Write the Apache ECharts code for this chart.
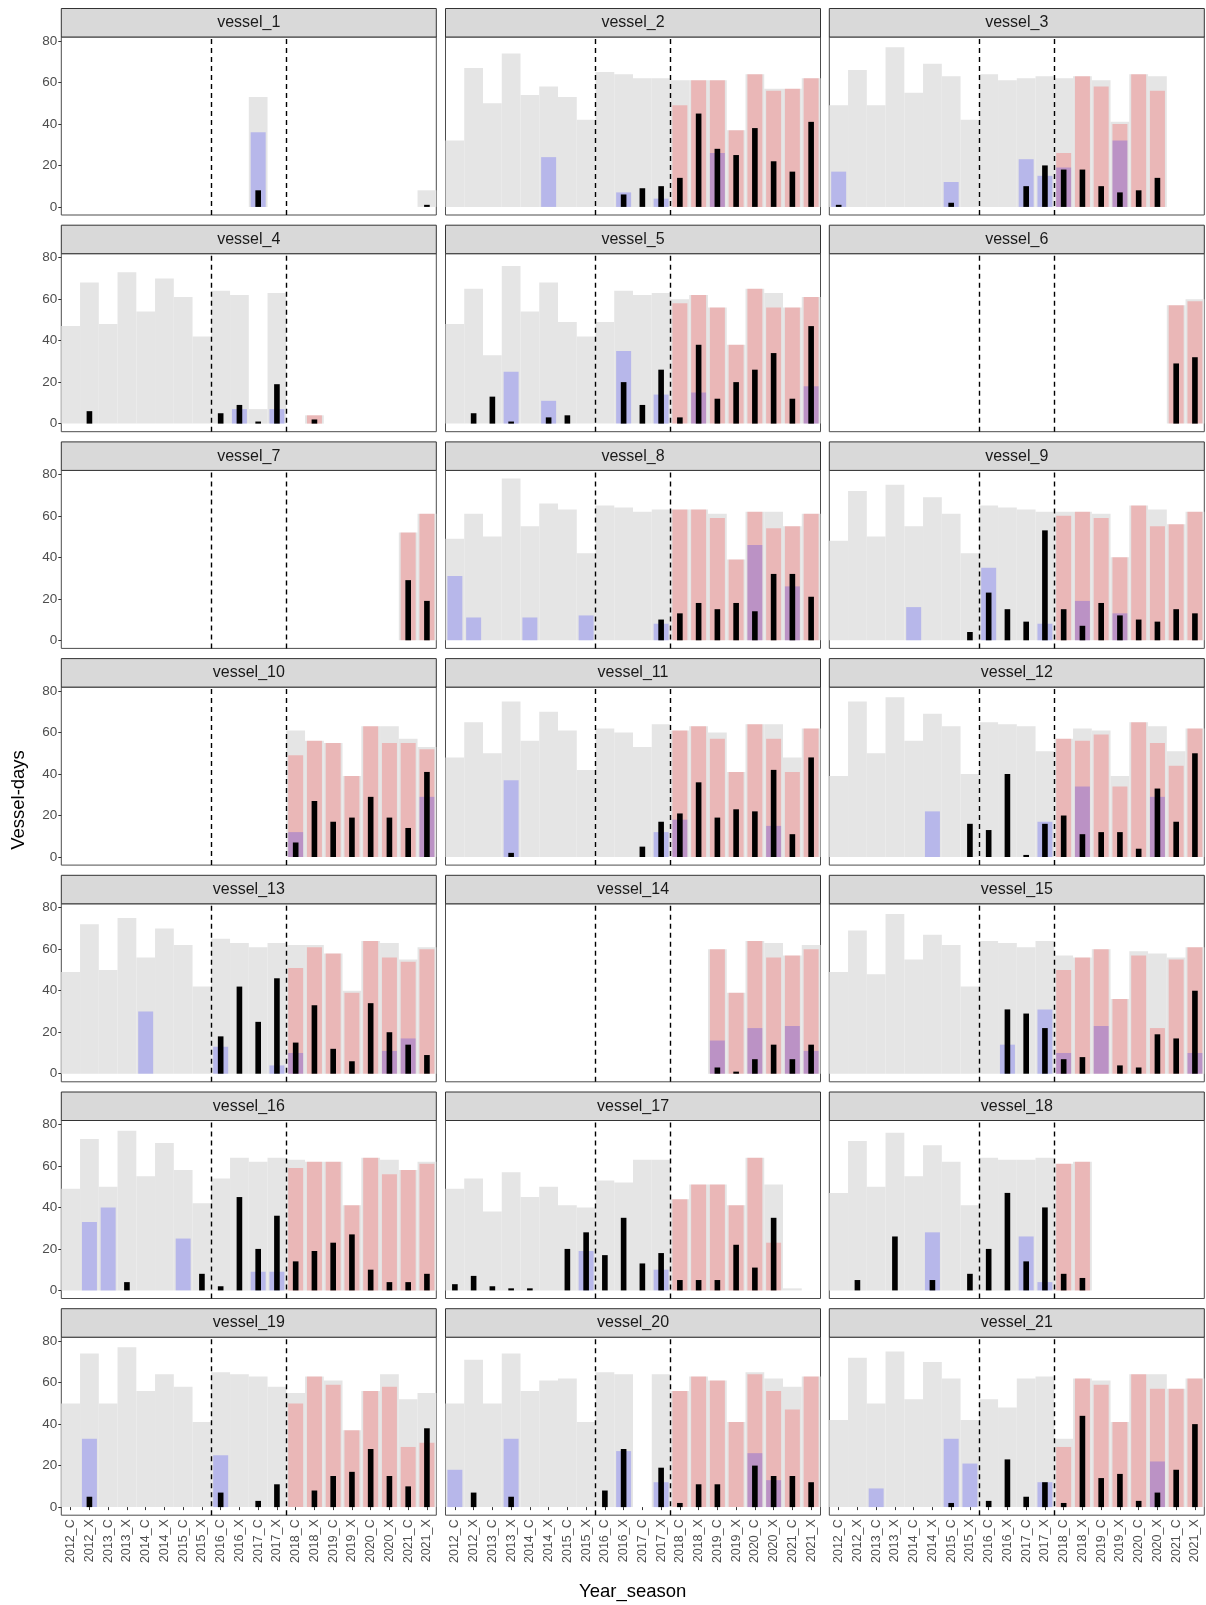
<!DOCTYPE html>
<html>
<head>
<meta charset="utf-8">
<script src="https://cdn.jsdelivr.net/npm/echarts@6/dist/echarts.min.js"></script>
<style>
  html, body { margin: 0; padding: 0; background: #fff; }
  #chart { width: 1206px; height: 1605px; }
</style>
</head>
<body>
<div id="chart"></div>
<script>
const _ = null;

const categories = ['2012_C', '2012_X', '2013_C', '2013_X', '2014_C', '2014_X', '2015_C', '2015_X',
    '2016_C', '2016_X', '2017_C', '2017_X', '2018_C', '2018_X', '2019_C', '2019_X',
    '2020_C', '2020_X', '2021_C', '2021_X'];

const vessels = ['vessel_1', 'vessel_2', 'vessel_3', 'vessel_4', 'vessel_5', 'vessel_6', 'vessel_7',
    'vessel_8', 'vessel_9', 'vessel_10', 'vessel_11', 'vessel_12', 'vessel_13', 'vessel_14',
    'vessel_15', 'vessel_16', 'vessel_17', 'vessel_18', 'vessel_19', 'vessel_20', 'vessel_21'];

const yTicks = [0, 20, 40, 60, 80];

// grey bars (full width)
const greyDays = [
    [_,_,_,_,_,_,_,_,_,_,53,_,_,_,_,_,_,_,_,8],
    [32,67,50,74,54,58,53,42,65,64,62,62,61,61,61,37,64,57,57,62],
    [49,66,49,77,55,69,63,42,64,61,62,63,62,63,61,41,64,63,_,_],
    [47,68,48,73,54,70,61,42,64,62,7,63,_,4,_,_,_,_,_,_],
    [48,65,33,76,54,68,49,42,49,64,62,63,60,62,56,38,65,63,56,61],
    [_,_,_,_,_,_,_,_,_,_,_,_,_,_,_,_,_,_,57,60],
    [_,_,_,_,_,_,_,_,_,_,_,_,_,_,_,_,_,_,52,61],
    [49,61,50,78,55,66,63,42,65,64,62,63,63,63,61,39,62,62,55,61],
    [48,72,50,75,55,69,61,42,65,64,63,62,62,62,61,40,65,63,56,62],
    [_,_,_,_,_,_,_,_,_,_,_,_,61,56,55,39,63,63,57,53],
    [48,65,50,75,56,70,61,42,62,60,53,64,61,63,60,41,64,64,48,62],
    [39,75,50,77,56,69,63,40,65,64,63,51,57,62,61,39,65,63,51,62],
    [49,72,50,75,56,70,62,42,65,63,61,63,62,62,58,40,64,63,55,61],
    [_,_,_,_,_,_,_,_,_,_,_,_,_,_,60,39,64,63,57,62],
    [49,69,48,77,55,67,62,42,64,63,61,64,57,56,60,36,59,58,56,61],
    [49,73,50,77,55,71,58,42,54,64,62,64,63,62,62,41,64,63,58,62],
    [49,54,38,57,45,50,41,40,53,52,63,63,44,51,51,41,64,51,1,_],
    [47,72,50,76,55,70,62,41,64,63,63,64,61,62,_,_,_,_,_,_],
    [50,74,50,77,56,64,58,41,65,64,63,58,55,63,61,37,56,64,52,55],
    [50,71,50,74,56,61,62,41,65,64,_,64,56,63,61,41,65,62,58,63],
    [42,72,50,75,52,70,62,42,52,48,62,63,33,62,61,41,64,64,57,62]
];

// red bars
const redDays = [
    [_,_,_,_,_,_,_,_,_,_,_,_,_,_,_,_,_,_,_,_],
    [_,_,_,_,_,_,_,_,_,_,_,_,49,61,61,37,64,56,57,62],
    [_,_,_,_,_,_,_,_,_,_,_,_,26,63,58,40,64,56,_,_],
    [_,_,_,_,_,_,_,_,_,_,_,_,_,4,_,_,_,_,_,_],
    [_,_,_,_,_,_,_,_,_,_,_,_,58,62,56,38,65,56,56,61],
    [_,_,_,_,_,_,_,_,_,_,_,_,_,_,_,_,_,_,57,59],
    [_,_,_,_,_,_,_,_,_,_,_,_,_,_,_,_,_,_,52,61],
    [_,_,_,_,_,_,_,_,_,_,_,_,63,63,59,39,62,54,55,61],
    [_,_,_,_,_,_,_,_,_,_,_,_,60,62,59,40,65,55,56,62],
    [_,_,_,_,_,_,_,_,_,_,_,_,49,56,55,39,63,55,55,52],
    [_,_,_,_,_,_,_,_,_,_,_,_,61,63,57,41,64,57,41,62],
    [_,_,_,_,_,_,_,_,_,_,_,_,57,56,59,34,65,55,44,62],
    [_,_,_,_,_,_,_,_,_,_,_,_,51,61,58,39,64,56,54,60],
    [_,_,_,_,_,_,_,_,_,_,_,_,_,_,60,39,64,56,57,60],
    [_,_,_,_,_,_,_,_,_,_,_,_,50,56,60,36,57,22,55,61],
    [_,_,_,_,_,_,_,_,_,_,_,_,59,62,62,41,64,56,58,61],
    [_,_,_,_,_,_,_,_,_,_,_,_,44,51,51,41,64,23,_,_],
    [_,_,_,_,_,_,_,_,_,_,_,_,61,62,_,_,_,_,_,_],
    [_,_,_,_,_,_,_,_,_,_,_,_,50,63,59,37,56,58,29,31],
    [_,_,_,_,_,_,_,_,_,_,_,_,56,63,61,41,64,56,47,63],
    [_,_,_,_,_,_,_,_,_,_,_,_,29,62,59,41,64,57,57,62]
];

// blue bars
const blueDays = [
    [_,_,_,_,_,_,_,_,_,_,36,_,_,_,_,_,_,_,_,_],
    [_,_,_,_,_,24,_,_,_,7,_,4,_,_,26,_,_,_,_,_],
    [17,_,_,_,_,_,12,_,_,_,23,15,19,_,_,32,_,_,_,_],
    [_,_,_,_,_,_,_,_,_,7,_,7,_,_,_,_,_,_,_,_],
    [_,_,_,25,_,11,_,_,_,35,_,14,_,15,_,_,_,_,_,18],
    [_,_,_,_,_,_,_,_,_,_,_,_,_,_,_,_,_,_,_,_],
    [_,_,_,_,_,_,_,_,_,_,_,_,_,_,_,_,_,_,_,_],
    [31,11,_,_,11,_,_,12,_,_,_,8,_,_,_,_,46,_,26,_],
    [_,_,_,_,16,_,_,_,35,_,_,8,_,19,_,13,_,_,_,_],
    [_,_,_,_,_,_,_,_,_,_,_,_,12,_,_,_,_,_,_,29],
    [_,_,_,37,_,_,_,_,_,_,_,12,18,_,_,_,_,15,_,_],
    [_,_,_,_,_,22,_,_,_,_,_,17,_,34,_,_,_,29,_,_],
    [_,_,_,_,30,_,_,_,13,_,_,4,10,_,_,_,_,11,17,_],
    [_,_,_,_,_,_,_,_,_,_,_,_,_,_,16,_,22,_,23,11],
    [_,_,_,_,_,_,_,_,_,14,_,31,10,_,23,_,_,_,_,10],
    [_,33,40,_,_,_,25,_,_,_,9,9,_,_,_,_,_,_,_,_],
    [_,_,_,_,_,_,_,19,_,_,_,10,_,_,_,_,_,_,_,_],
    [_,_,_,_,_,28,_,_,_,_,26,4,_,_,_,_,_,_,_,_],
    [_,33,_,_,_,_,_,_,25,_,_,_,_,_,_,_,_,_,_,_],
    [18,_,_,33,_,_,_,_,_,27,_,12,_,_,_,_,26,13,_,_],
    [_,_,9,_,_,_,33,21,_,_,_,12,_,_,_,_,_,22,_,_]
];

// black bars (narrow)
const blackDays = [
    [_,_,_,_,_,_,_,_,_,_,8,_,_,_,_,_,_,_,_,1],
    [_,_,_,_,_,_,_,_,_,6,9,10,14,45,28,25,38,22,17,41],
    [1,_,_,_,_,_,2,_,_,_,10,20,18,18,10,7,8,14,_,_],
    [_,6,_,_,_,_,_,_,5,9,1,19,_,2,_,_,_,_,_,_],
    [_,5,13,1,_,3,4,_,_,20,9,26,3,38,12,20,26,34,12,47],
    [_,_,_,_,_,_,_,_,_,_,_,_,_,_,_,_,_,_,29,32],
    [_,_,_,_,_,_,_,_,_,_,_,_,_,_,_,_,_,_,29,19],
    [_,_,_,_,_,_,_,_,_,_,_,10,13,18,15,18,14,32,32,21],
    [_,_,_,_,_,_,_,4,23,15,9,53,15,7,18,12,10,9,15,13],
    [_,_,_,_,_,_,_,_,_,_,_,_,7,27,17,19,29,19,14,41],
    [_,_,_,2,_,_,_,_,_,_,5,17,21,36,19,23,22,42,11,48],
    [_,_,_,_,_,_,_,16,13,40,1,16,20,11,12,12,4,33,17,50],
    [_,_,_,_,_,_,_,_,18,42,25,46,15,33,12,6,34,20,14,9],
    [_,_,_,_,_,_,_,_,_,_,_,_,_,_,3,1,7,14,7,14],
    [_,_,_,_,_,_,_,_,_,31,29,22,7,8,_,4,3,19,17,40],
    [_,_,_,4,_,_,_,8,2,45,20,36,14,19,23,27,10,4,4,8],
    [3,7,2,1,1,_,20,28,17,35,13,18,5,5,5,22,11,35,_,_],
    [_,5,_,26,_,5,_,8,20,47,14,40,8,6,_,_,_,_,_,_],
    [_,5,_,_,_,_,_,_,7,_,3,11,_,8,15,17,28,15,10,38],
    [_,7,_,5,_,_,_,_,8,28,_,19,2,11,11,_,20,15,15,12],
    [_,_,_,_,_,_,2,_,3,23,5,12,2,44,14,16,3,7,18,40]
];

const FONT = "'Liberation Sans', Arial, sans-serif";
const colLeft = [61.3, 445.5, 829.3];
const panelW = 375;
const panelH = 178;
const stripH = 28.5;
const stripTop0 = 8.5;
const rowStep = 216.7;

const layers = [
    { data: greyDays, width: '100%', color: '#e5e5e5' },
    { data: redDays, width: '80%', color: 'rgba(255,0,0,0.2)' },
    { data: blueDays, width: '80%', color: 'rgba(0,0,255,0.2)' },
    { data: blackDays, width: '30%', color: '#000' }
];

const grid = [], xAxis = [], yAxis = [], series = [], graphic = [];

vessels.forEach(function (name, k) {
    const row = Math.floor(k / 3);
    const col = k % 3;
    const left = colLeft[col];
    const stripTop = stripTop0 + row * rowStep;
    const top = stripTop + stripH;
    const bottomRow = row === 6;

    grid.push({
        left: left, top: top, width: panelW, height: panelH,
        show: true, backgroundColor: '#fff', borderColor: '#4d4d4d', borderWidth: 1
    });

    const base = xAxis.length;
    layers.forEach(function (layer, j) {
        xAxis.push({
            type: 'category', gridIndex: k, data: categories,
            show: j === 0 && bottomRow,
            axisLine: { show: false },
            axisTick: { show: true, alignWithLabel: true, length: 3, lineStyle: { color: '#333' } },
            axisLabel: { rotate: 90, interval: 0, fontSize: 12.5, color: '#4d4d4d', margin: 4, fontFamily: FONT },
            splitLine: { show: false }
        });
        series.push({
            type: 'bar', xAxisIndex: base + j, yAxisIndex: k,
            data: layer.data[k], barWidth: layer.width,
            itemStyle: { color: layer.color },
            silent: true, z: 2 + j
        });
    });
    // value axis used only to place the dashed season separators between categories
    xAxis.push({ type: 'value', gridIndex: k, min: 0, max: 20, show: false });
    yAxis.push({
        type: 'value', gridIndex: k, min: -3.9, max: 81.9,
        show: col === 0,
        axisLine: { show: false },
        axisTick: { show: true, length: 3, customValues: yTicks, lineStyle: { color: '#333' } },
        axisLabel: { customValues: yTicks, fontSize: 13.5, color: '#4d4d4d', margin: 4, fontFamily: FONT },
        splitLine: { show: false }
    });
    series.push({
        type: 'scatter', xAxisIndex: base + 4, yAxisIndex: k, data: [], silent: true, z: 10,
        markLine: {
            silent: true, symbol: ['none', 'none'], label: { show: false },
            lineStyle: { color: '#000', type: [5, 4], width: 1.4 },
            data: [{ xAxis: 8 }, { xAxis: 12 }]
        }
    });

    graphic.push({
        type: 'rect', silent: true,
        shape: { x: left, y: stripTop, width: panelW, height: stripH },
        style: { fill: '#d9d9d9', stroke: '#333', lineWidth: 1 }
    });
    graphic.push({
        type: 'text', silent: true, x: left + panelW / 2, y: stripTop + stripH / 2,
        style: { text: name, align: 'center', verticalAlign: 'middle', fill: '#1a1a1a', fontSize: 16, fontFamily: FONT }
    });
});

graphic.push({
    type: 'text', silent: true, x: 18.5, y: 800, rotation: Math.PI / 2,
    style: { text: 'Vessel-days', align: 'center', verticalAlign: 'middle', fill: '#000', fontSize: 18.5, fontFamily: FONT }
});
graphic.push({
    type: 'text', silent: true, x: 632.7, y: 1592,
    style: { text: 'Year_season', align: 'center', verticalAlign: 'middle', fill: '#000', fontSize: 18.5, fontFamily: FONT }
});

const chart = echarts.init(document.getElementById('chart'));
chart.setOption({
    animation: false,
    backgroundColor: '#fff',
    grid: grid,
    xAxis: xAxis,
    yAxis: yAxis,
    series: series,
    graphic: graphic
});
</script>
</body>
</html>
